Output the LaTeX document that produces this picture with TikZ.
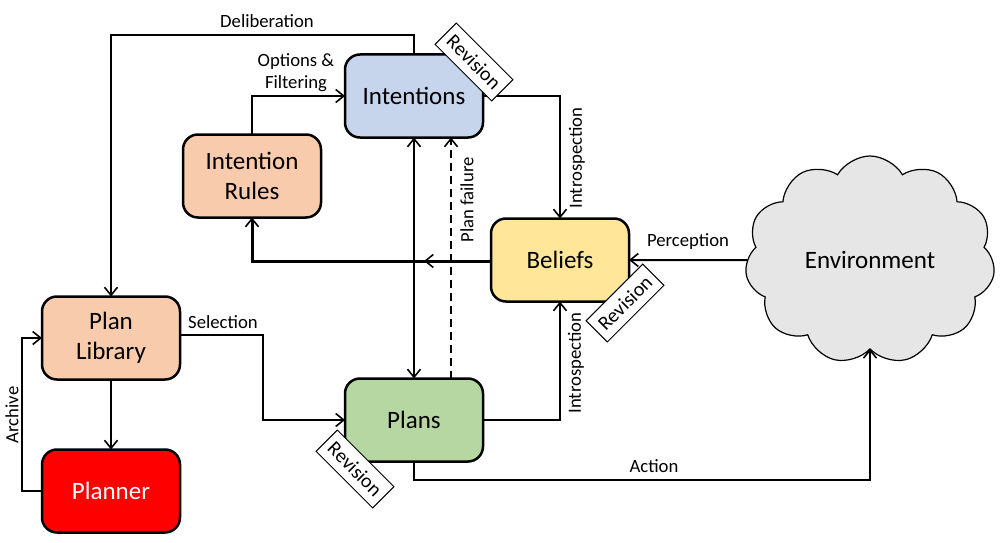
\documentclass[tikz,border=0pt]{standalone}
\usepackage{fontspec}
\setmainfont{Carlito}
\usetikzlibrary{arrows.meta,shapes.symbols,decorations.markings,calc}
\definecolor{cint}{HTML}{C6D4EC}
\definecolor{crule}{HTML}{F8CBAD}
\definecolor{cbel}{HTML}{FFE699}
\definecolor{cplan}{HTML}{B7D7A2}
\definecolor{cenv}{HTML}{E6E6E6}
\begin{document}
\begin{tikzpicture}[x=1pt,y=-1pt,
  box/.style={draw=black,line width=2.5pt,rounded corners=15pt,minimum width=138pt,minimum height=83pt,
    align=center,font=\fontsize{25}{30}\selectfont,inner sep=0pt,outer sep=0pt},
  conn/.style={line width=2pt,-{Straight Barb[length=8pt,width=13pt,line width=1.6pt]}},
  lbl/.style={font=\fontsize{18.7}{22}\selectfont,inner sep=0pt,align=center},
  rev/.style={draw=black,line width=1pt,fill=white,minimum width=80pt,minimum height=30pt,
    inner sep=0pt,font=\fontsize{20}{24}\selectfont},
  midarrow/.style={postaction={decorate},decoration={markings,
    mark=at position 67pt with {\arrow{Straight Barb[length=8pt,width=13pt,line width=1.6pt]}}}}
]
\useasboundingbox (0,0) rectangle (1005,543);

\node[box,fill=cint] (intentions) at (414,96) {Intentions};
\node[box,fill=crule] (irules) at (252,176) {Intention\\Rules};
\node[box,fill=cbel] (beliefs) at (560,260) {Beliefs};
\node[box,fill=crule] (library) at (111,338) {Plan\\Library};
\node[box,fill=cplan] (plans) at (414,420) {Plans};
\node[box,fill=red,text=white] (planner) at (111,491) {Planner};
\node[cloud,cloud puffs=11,cloud puff arc=120,aspect=1.2,draw=black,line width=1.2pt,fill=cenv,
  minimum width=250pt,minimum height=208pt,inner sep=0pt,outer sep=0pt,
  font=\fontsize{25}{30}\selectfont] (env) at (870,260) {Environment};

% connectors
\draw[conn] (intentions.north) -- (intentions.north |- 0,35) -| (library.north);
\draw[conn] (irules.north) |- (intentions.west);
\draw[conn] (intentions.east) -| (beliefs.north);
\draw[conn,line width=3pt,midarrow] ([yshift=-1pt]beliefs.west) -| (irules.south);
\draw[conn,{Straight Barb[length=8pt,width=13pt,line width=1.6pt]}-{Straight Barb[length=8pt,width=13pt,line width=1.6pt]}] (intentions.south) -- (plans.north);
\draw[conn,dash pattern=on 8pt off 5pt] ([xshift=37pt]plans.north) -- ([xshift=37pt]intentions.south);
\draw[conn] (plans.east) -| (beliefs.south);
\draw[conn] (env.west) -- (beliefs.east);
\draw[conn] ([yshift=3pt]library.east) -- ++(83,0) |- (plans.west);
\draw[conn] (library.south) -- (planner.north);
\draw[conn] (planner.west) -- ++(-20,0) |- (library.west);
\draw[conn] (plans.south) -- ++(0,18) -| (env.south);

% labels
\node[lbl] (ldelib) at (267,21) {Deliberation};
\node[lbl] (lopt) at (296,73) {Options \&\\Filtering};
\node[lbl,rotate=90] (lintro1) at (577,158) {Introspection};
\node[lbl,rotate=90] (lintro2) at (576,363) {Introspection};
\node[lbl,rotate=90] (lfail) at (467,200) {Plan failure};
\node[lbl] (lperc) at (688,242) {Perception};
\node[lbl] (lsel) at (223,322) {Selection};
\node[lbl] (lact) at (654,466) {Action};
\node[lbl,rotate=90] (larch) at (12,415) {Archive};

% revision tags
\node[rev,rotate=-45] (rev1) at (474,62) {Revision};
\node[rev,rotate=45] (rev2) at (625,303) {Revision};
\node[rev,rotate=-45] (rev3) at (355,469) {Revision};
\end{tikzpicture}
\end{document}
